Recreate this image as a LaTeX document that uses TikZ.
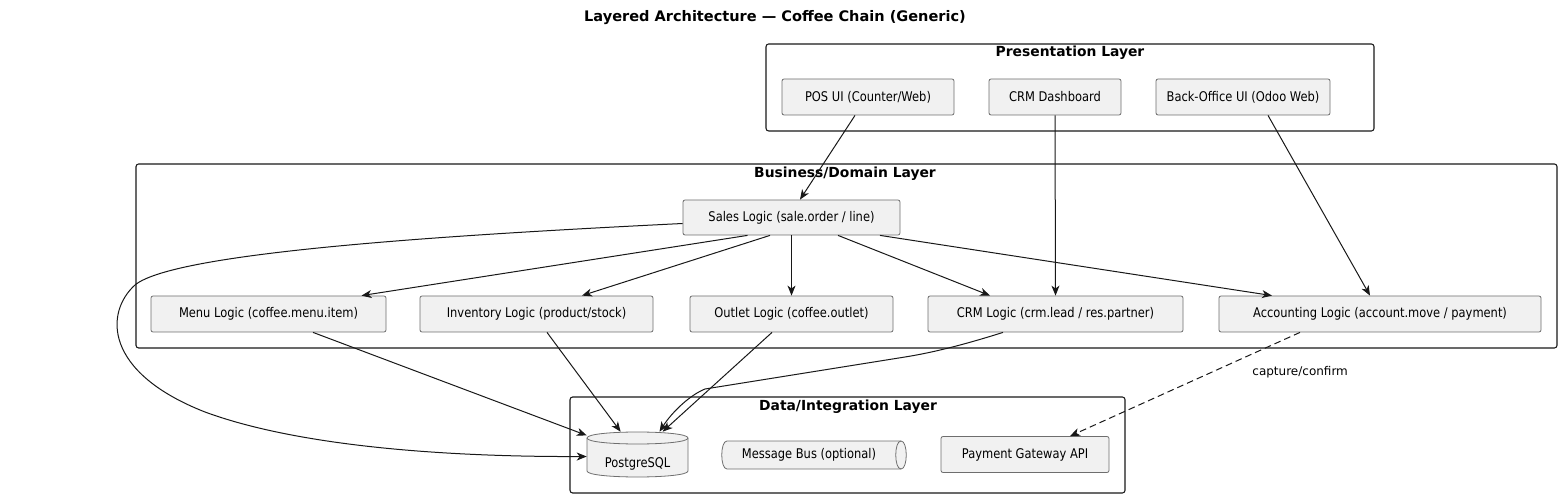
\documentclass[tikz,border=0pt]{standalone}
\usepackage{fontspec}
\setmainfont{DejaVu Sans}
\newfontfamily\compfont[FakeStretch=0.86]{DejaVu Sans}
\usetikzlibrary{arrows.meta}
\usetikzlibrary{calc}

\definecolor{boxfill}{RGB}{241,241,241}
\definecolor{boxline}{RGB}{110,110,110}
\definecolor{edgeline}{RGB}{24,24,24}

\begin{document}
\begin{tikzpicture}[x=0.75pt,y=0.75pt,yscale=-1,xscale=1,
  comp/.style={draw=boxline,line width=0.6pt,fill=boxfill,rounded corners=1.5pt,minimum height=27pt,inner xsep=0pt,font=\compfont\fontsize{10}{11}\selectfont},
  layer/.style={draw=edgeline,line width=0.8pt,rounded corners=2pt},
  ltitle/.style={font=\fontsize{10.4}{12}\selectfont\bfseries},
  flow/.style={draw=edgeline,line width=0.75pt,-{Stealth[length=7.5pt,width=6pt,inset=2.2pt]}},
]
\useasboundingbox (0,0) rectangle (1562,498);

% Text Node
\draw (775,18) node [font=\fontsize{10.9}{12}\selectfont\bfseries] (title) {Layered Architecture --- Coffee Chain (Generic)};

%Shape: Presentation Layer
\draw [layer] (766,44) rectangle (1374,131);
\draw (1070,53) node [ltitle] (prestitle) {Presentation Layer};
\draw (868,97) node [comp,minimum width=129pt] (pos) {POS UI (Counter/Web)};
\draw (1055,97) node [comp,minimum width=99pt] (crmdash) {CRM Dashboard};
\draw (1243,97) node [comp,minimum width=130.5pt] (backoffice) {Back-Office UI (Odoo Web)};

%Shape: Business/Domain Layer
\draw [layer] (136,164) rectangle (1557,348);
\draw (845,174) node [ltitle] (biztitle) {Business/Domain Layer};
\draw (791.5,217.5) node [comp,minimum width=162.75pt,minimum height=26.25pt] (sales) {Sales Logic (sale.order / line)};
\draw (268.5,314) node [comp,minimum width=176.25pt] (menu) {Menu Logic (coffee.menu.item)};
\draw (536.5,314) node [comp,minimum width=174.75pt] (inventory) {Inventory Logic (product/stock)};
\draw (791.5,314) node [comp,minimum width=152.25pt] (outlet) {Outlet Logic (coffee.outlet)};
\draw (1055.5,314) node [comp,minimum width=191.25pt] (crmlogic) {CRM Logic (crm.lead / res.partner)};
\draw (1380,314) node [comp,minimum width=241.5pt] (accounting) {Accounting Logic (account.move / payment)};

%Shape: Data/Integration Layer
\draw [layer] (570,397) rectangle (1125,493);
\draw (848,407) node [ltitle] (datatitle) {Data/Integration Layer};
%Shape: Database
\draw [draw=boxline,line width=0.6pt,fill=boxfill] (587,438) .. controls (587,430) and (688,430) .. (688,438) -- (688,471) .. controls (688,479) and (587,479) .. (587,471) -- cycle;
\draw [draw=boxline,line width=0.6pt] (587,438) .. controls (587,446) and (688,446) .. (688,438);
\draw (637.5,454.5) node [minimum width=75.75pt,minimum height=33.75pt,inner sep=0pt] (pg) {};
\draw (637.5,464) node [font=\compfont\fontsize{10}{11}\selectfont] (pgtext) {PostgreSQL};
%Shape: Queue
\draw [draw=boxline,line width=0.6pt,fill=boxfill] (727,441) -- (901,441) .. controls (908,441) and (908,469) .. (901,469) -- (727,469) .. controls (720,469) and (720,441) .. (727,441) -- cycle;
\draw [draw=boxline,line width=0.6pt] (901,441) .. controls (894,441) and (894,469) .. (901,469);
\draw (809,455) node [font=\compfont\fontsize{10}{11}\selectfont] (bus) {Message Bus (optional)};
\draw (1025,454.5) node [comp,minimum width=126pt] (payment) {Payment Gateway API};

%Straight Lines
\draw [flow] ($(pos.south)+(-13,0)$) -- ($(sales.north)+(8.5,0)$);
\draw [flow] (crmdash.south) -- (crmlogic.north);
\draw [flow] ($(backoffice.south)+(25,0)$) -- ($(accounting.north)+(-10,0)$);
\draw [flow] ($(sales.south)+(-44,0)$) -- ($(menu.north)+(93,0)$);
\draw [flow] ($(sales.south)+(-21.5,0)$) -- ($(inventory.north)+(45.5,0)$);
\draw [flow] (sales.south) -- (outlet.north);
\draw [flow] ($(sales.south)+(46.5,0)$) -- ($(crmlogic.north)+(-65.5,0)$);
\draw [flow] ($(sales.south)+(88.5,0)$) -- ($(accounting.north)+(-108,0)$);

%Curve Lines
\draw [flow] ($(sales.west)+(0,6)$) .. controls (450,235) and (175,252) .. (135,285) .. controls (105,312) and (103,372) .. (205,412) .. controls (300,447) and (450,457) .. ($(pg.west)+(0,2)$);
\draw [flow] ($(menu.south)+(44.5,0)$) -- (pg);
\draw [flow] ($(inventory.south)+(10.5,0)$) -- (pg);
\draw [flow] ($(outlet.south)+(-19.5,0)$) -- (pg);
\draw [flow] ($(crmlogic.south)+(-52.5,0)$) .. controls (960,346) and (930,353) .. (905,357) -- (705,389) .. controls (690,395) and (672,412) .. ($(pg.north)+(22,0)$);

% Text Node
\draw [flow,dash pattern=on 5pt off 3pt] ($(accounting.south)+(-80,0)$) -- ($(payment.north)+(45,0)$) node [pos=0.385,anchor=west,xshift=27pt,font=\fontsize{9}{10}\selectfont] (capture) {capture/confirm};

\end{tikzpicture}
\end{document}
